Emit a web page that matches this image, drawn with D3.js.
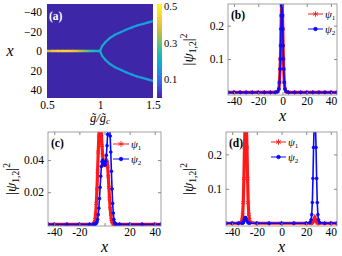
<!DOCTYPE html>
<html>
<head>
<meta charset="utf-8">
<script src="https://cdn.jsdelivr.net/npm/d3@7"></script>
<style>
  body { margin: 0; background: #fff; }
  svg { display: block; }
  text { font-family: "Liberation Serif", "DejaVu Serif", serif; fill: #000; }
</style>
</head>
<body>
<svg id="fig" width="342" height="256"></svg>
<script>
// ---- panel (a): ridge of |psi|^2 ----
const centerG = [0.5, 0.55, 0.6, 0.65, 0.7, 0.75, 0.8, 0.85, 0.9, 0.95, 1.0]
const centerVal = [0.34, 0.4, 0.43, 0.44, 0.44, 0.42, 0.38, 0.33, 0.28, 0.23, 0.2]
const branchG = [1.0, 1.02, 1.05, 1.09, 1.14, 1.2, 1.25, 1.3, 1.35, 1.4, 1.45, 1.5]
const branchX = [0, 5, 9, 13, 16.5, 19.5, 22, 24, 26, 27.5, 29, 30.5]
const branchVal = [0.22, 0.2, 0.19, 0.18, 0.18, 0.17, 0.17, 0.17, 0.17, 0.17, 0.17, 0.17]
const cbTicks = [0.1, 0.3, 0.5]
const parula = ['#3e26a8', '#4744e8', '#2d74f4', '#1d98e0', '#0cb0ce', '#2bbda6',
  '#6fc572', '#bfbd3c', '#f9bd3a', '#f5e22b', '#f9fb0e']

// ---- panel (b) ----
const bX = [-45, -40, -35, -30, -25, -20, -15, -10, -6, -4, -3, -2.5, -2, -1.75, -1.5, -1.25, -1,
  -0.75, -0.5, -0.25, 0, 0.25, 0.5, 0.75, 1, 1.5, 2, 3, 5, 10, 15, 20, 25, 30, 35, 40, 45]
const bPsi1 = [0, 0, 0, 0, 0, 0, 0, 0, 0, 0.002, 0.01, 0.03, 0.07, 0.1, 0.14, 0.19, 0.23,
  0.26, 0.275, 0.26, 0.23, 0.19, 0.14, 0.1, 0.07, 0.03, 0.01, 0.002, 0, 0, 0, 0, 0, 0, 0, 0, 0]
const bPsi2 = [0, 0, 0, 0, 0, 0, 0, 0, 0, 0.002, 0.01, 0.03, 0.07, 0.1, 0.14, 0.19, 0.23,
  0.26, 0.275, 0.26, 0.23, 0.19, 0.14, 0.1, 0.07, 0.03, 0.01, 0.002, 0, 0, 0, 0, 0, 0, 0, 0, 0]

// ---- panel (c) ----
const cX = [-45, -40, -30, -20, -12, -9, -8.5, -8, -7.5, -7, -6.5, -6, -5.5, -5, -4.5, -4, -3.5, -3,
  -2.5, -2, -1.5, -1, -0.5, 0, 0.5, 1, 1.5, 2, 2.5, 3, 3.5, 4, 4.5, 5, 5.5, 6, 6.5, 7, 7.5, 8,
  8.5, 9, 12, 20, 30, 40, 45]
const cPsi1 = [0, 0, 0, 0, 0, 0, 0.0005, 0.001, 0.003, 0.007, 0.013, 0.022, 0.033, 0.045, 0.055,
  0.061, 0.063, 0.061, 0.056, 0.049, 0.043, 0.039, 0.037, 0.037, 0.038, 0.039, 0.04, 0.039,
  0.036, 0.03, 0.023, 0.016, 0.01, 0.006, 0.003, 0.0015, 0.0007, 0.0003, 0.0001, 0, 0, 0, 0, 0,
  0, 0, 0]
const cPsi2 = [0, 0, 0, 0, 0, 0, 0, 0, 0.0001, 0.0003, 0.0007, 0.0015, 0.003, 0.006, 0.01, 0.016,
  0.023, 0.03, 0.036, 0.039, 0.04, 0.039, 0.038, 0.037, 0.037, 0.039, 0.043, 0.049, 0.056,
  0.061, 0.063, 0.061, 0.055, 0.045, 0.033, 0.022, 0.013, 0.007, 0.003, 0.001, 0.0005, 0, 0, 0,
  0, 0, 0]

// ---- panel (d) ----
const d1X = [-45, -40, -35, -33, -32, -31.5, -31, -30.5, -30, -29.5, -29, -28.5, -28, -27.5, -27,
  -26.5, -26, -25, -20, -10, 0, 10, 20, 24, 25, 26, 26.5, 27, 27.5, 28, 29, 30, 35, 40, 45]
const d1Y = [0, 0, 0, 0.002, 0.01, 0.025, 0.06, 0.13, 0.22, 0.29, 0.31, 0.29, 0.22, 0.13, 0.06,
  0.025, 0.01, 0.002, 0, 0, 0, 0, 0, 0, 0.001, 0.006, 0.012, 0.016, 0.012, 0.006, 0.001, 0, 0, 0, 0]
const d2X = [-45, -40, -35, -32, -31, -30.5, -30, -29.5, -29, -28.5, -28, -27, -26, -20, -10, 0,
  10, 20, 23, 24, 24.5, 25, 25.5, 26, 26.5, 27, 27.5, 28, 28.5, 29, 29.5, 30, 31, 35, 40, 45]
const d2Y = [0, 0, 0, 0, 0.001, 0.006, 0.012, 0.016, 0.016, 0.012, 0.006, 0.001, 0, 0, 0, 0, 0, 0,
  0.002, 0.01, 0.025, 0.06, 0.13, 0.22, 0.29, 0.31, 0.29, 0.22, 0.13, 0.06, 0.025, 0.01, 0.002,
  0, 0, 0]

const xTicks = [-40, -20, 0, 20, 40]

const svg = d3.select('#fig')
const defs = svg.append('defs')
defs.append('filter').attr('id', 'soft')
  .attr('x', '-10%').attr('y', '-10%').attr('width', '120%').attr('height', '120%')
  .append('feGaussianBlur').attr('stdDeviation', 0.5)

const frameColor = '#8a8a8a'

// ================= panel (a) =================
const color = d3.scaleSequential(d3.interpolateRgbBasis(parula)).domain([0, 0.51])
const ax = d3.scaleLinear().domain([0.5, 1.5]).range([47, 153])
const ay = d3.scaleLinear().domain([-48, 48]).range([4, 98])

defs.append('clipPath').attr('id', 'clipA')
  .append('rect').attr('x', 47).attr('y', 4).attr('width', 106).attr('height', 94)

const ga = svg.append('g')
ga.append('rect').attr('x', 47).attr('y', 4).attr('width', 106).attr('height', 94)
  .attr('fill', color(0))
const ridge = ga.append('g').attr('clip-path', 'url(#clipA)')
  .append('g').attr('filter', 'url(#soft)')

// horizontal ridge g < 1
d3.pairs(d3.range(centerG.length)).forEach(([i, j]) => {
  ridge.append('line')
    .attr('x1', ax(centerG[i])).attr('x2', ax(centerG[j]))
    .attr('y1', ay(0)).attr('y2', ay(0))
    .attr('stroke', color((centerVal[i] + centerVal[j]) / 2))
    .attr('stroke-width', 2.3).attr('stroke-linecap', 'round')
})
// two branches g > 1
;[-1, 1].forEach(s => {
  d3.pairs(d3.range(branchG.length)).forEach(([i, j]) => {
    ridge.append('line')
      .attr('x1', ax(branchG[i])).attr('x2', ax(branchG[j]))
      .attr('y1', ay(s * branchX[i])).attr('y2', ay(s * branchX[j]))
      .attr('stroke', color((branchVal[i] + branchVal[j]) / 2))
      .attr('stroke-width', 2.2).attr('stroke-linecap', 'round')
  })
})

ga.append('g').attr('transform', 'translate(0,98)')
  .call(d3.axisBottom(ax).tickValues([0.5, 1, 1.5]).tickSize(0).tickPadding(3)
    .tickFormat(d3.format('')))
  .call(g => g.select('.domain').remove())
ga.append('g').attr('transform', 'translate(47,0)')
  .call(d3.axisLeft(ay).tickValues([-40, -20, 0, 20, 40]).tickSize(0).tickPadding(5))
  .call(g => g.select('.domain').remove())
ga.selectAll('.tick text').attr('font-size', 11.5)
  .attr('font-family', '"Liberation Serif", serif').attr('fill', '#000')

ga.append('text').attr('x', 49).attr('y', 20).attr('font-size', 11.5)
  .attr('font-weight', 'bold').style('fill', '#fff').text('(a)')
ga.append('text').attr('x', 10).attr('y', 56).attr('text-anchor', 'middle')
  .attr('font-size', 16).attr('font-style', 'italic').text('x')
const gl = ga.append('text').attr('x', 100).attr('y', 122).attr('text-anchor', 'middle')
  .attr('font-size', 12.5).attr('font-style', 'italic')
gl.append('tspan').text('g\u0303/g\u0303')
gl.append('tspan').attr('font-size', 9).attr('dy', 2).text('c')

// colorbar
const grad = defs.append('linearGradient').attr('id', 'cbar')
  .attr('x1', 0).attr('y1', 1).attr('x2', 0).attr('y2', 0)
d3.range(0, 1.0001, 0.05).forEach(t => {
  grad.append('stop').attr('offset', t).attr('stop-color', color(t * 0.51))
})
const cy = d3.scaleLinear().domain([0, 0.51]).range([98, 4])
ga.append('rect').attr('x', 157).attr('y', 4).attr('width', 5).attr('height', 94)
  .attr('fill', 'url(#cbar)')
ga.append('g').attr('transform', 'translate(162,0)')
  .call(d3.axisRight(cy).tickValues(cbTicks).tickSize(0).tickPadding(2)
    .tickFormat(d3.format('.1f')))
  .call(g => g.select('.domain').remove())
  .selectAll('text').attr('font-size', 10.5)
  .attr('font-family', '"Liberation Serif", serif').attr('fill', '#000')

// ================= line panels =================
function linePanel (opt) {
  const { left, right, top, bottom } = opt
  const x = d3.scaleLinear().domain([-45, 45]).range([left, right])
  const y = d3.scaleLinear().domain(opt.yDomain).range([bottom, top])
  const g = svg.append('g')
  const id = 'clip' + opt.tag
  defs.append('clipPath').attr('id', id)
    .append('rect').attr('x', left).attr('y', top)
    .attr('width', right - left).attr('height', bottom - top)

  const line = d3.line().x(d => x(d[0])).y(d => y(d[1]))
  const plot = g.append('g').attr('clip-path', `url(#${id})`)
  const series = [
    { xs: opt.x1, ys: opt.y1, c: '#ff1a1a', w: 3.2, sym: d3.symbolAsterisk, size: 14 },
    { xs: opt.x2, ys: opt.y2, c: '#0a0aff', w: 1.6, sym: d3.symbolCircle, size: 6 }
  ]
  series.forEach(s => {
    const pts = s.xs.map((v, i) => [v, s.ys[i]])
    plot.append('path').attr('d', line(pts)).attr('fill', 'none')
      .attr('stroke', s.c).attr('stroke-width', s.w)
    plot.selectAll(null).data(pts).join('path')
      .attr('transform', d => `translate(${x(d[0])},${y(d[1])})`)
      .attr('d', d3.symbol(s.sym, s.size))
      .attr('fill', s.c).attr('stroke', s.c).attr('stroke-width', 0.9)
  })

  // axes with inward ticks, box on
  const fmtX = opt.hideZero ? (d => d === 0 ? '' : d) : (d => d)
  g.append('g').attr('transform', `translate(0,${bottom})`)
    .call(d3.axisBottom(x).tickValues(xTicks).tickSize(-3).tickPadding(2).tickFormat(fmtX))
  g.append('g').attr('transform', `translate(0,${top})`)
    .call(d3.axisTop(x).tickValues(xTicks).tickSize(-3).tickFormat(''))
  g.append('g').attr('transform', `translate(${left},0)`)
    .call(d3.axisLeft(y).tickValues(opt.yTicks).tickSize(-3).tickPadding(4)
      .tickFormat(d3.format(opt.yFmt)))
  g.append('g').attr('transform', `translate(${right},0)`)
    .call(d3.axisRight(y).tickValues(opt.yTicks).tickSize(-3).tickFormat(''))
  g.selectAll('.domain').remove()
  g.selectAll('.tick line').attr('stroke', frameColor)
  g.selectAll('.tick text').attr('font-size', 11.5)
    .attr('font-family', '"Liberation Serif", serif').attr('fill', '#000')
  g.append('rect').attr('x', left).attr('y', top)
    .attr('width', right - left).attr('height', bottom - top)
    .attr('fill', 'none').attr('stroke', frameColor).attr('stroke-width', 0.8)

  // labels
  g.append('text').attr('x', left + 3).attr('y', top + 15).attr('font-size', 11.5)
    .attr('font-weight', 'bold').text(`(${opt.tag})`)
  g.append('text').attr('x', (left + right) / 2).attr('y', bottom + 26)
    .attr('text-anchor', 'middle').attr('font-size', 16).attr('font-style', 'italic').text('x')
  const yl = g.append('text')
    .attr('transform', `translate(${opt.ylx},${(top + bottom) / 2}) rotate(-90)`)
    .attr('text-anchor', 'middle').attr('font-size', 15)
  yl.append('tspan').text('|')
  yl.append('tspan').attr('font-style', 'italic').text('\u03c8')
  yl.append('tspan').attr('font-size', 9.5).attr('dy', 3).text('1,2')
  yl.append('tspan').attr('dy', -3).text('|')
  yl.append('tspan').attr('font-size', 9.5).attr('dy', -6).text('2')

  // legend
  const lg = opt.legend
  series.forEach((s, i) => {
    const ly = lg.y + i * 15
    g.append('line').attr('x1', lg.x).attr('x2', lg.x + lg.len)
      .attr('y1', ly).attr('y2', ly).attr('stroke', s.c).attr('stroke-width', 1)
    g.append('path').attr('transform', `translate(${lg.x + lg.len / 2},${ly})`)
      .attr('d', d3.symbol(s.sym, s.size * 1.6)).attr('fill', s.c)
      .attr('stroke', s.c).attr('stroke-width', 0.9)
    const t = g.append('text').attr('x', lg.x + lg.len + 2).attr('y', ly + 4)
      .attr('font-size', 11)
    t.append('tspan').attr('font-style', 'italic').text('\u03c8')
    t.append('tspan').attr('font-size', 7).attr('dy', 2).text(i + 1)
  })
}

linePanel({
  tag: 'b', left: 228, right: 337, top: 4, bottom: 95,
  yDomain: [-0.008, 0.265], yTicks: [0.1, 0.2], yFmt: '.1f', ylx: 193,
  x1: bX, y1: bPsi1, x2: bX, y2: bPsi2,
  legend: { x: 308, y: 14, len: 15 }
})
linePanel({
  tag: 'c', left: 48, right: 161, top: 132, bottom: 226,
  yDomain: [-0.00106, 0.0575], yTicks: [0.02, 0.04], yFmt: '.2f', ylx: 16, hideZero: true,
  x1: cX, y1: cPsi1, x2: cX, y2: cPsi2,
  legend: { x: 113, y: 144, len: 16 }
})
linePanel({
  tag: 'd', left: 226, right: 337, top: 132, bottom: 226,
  yDomain: [-0.008, 0.265], yTicks: [0.1, 0.2], yFmt: '.1f', ylx: 193,
  x1: d1X, y1: d1Y, x2: d2X, y2: d2Y,
  legend: { x: 271, y: 142, len: 15 }
})
</script>
</body>
</html>
